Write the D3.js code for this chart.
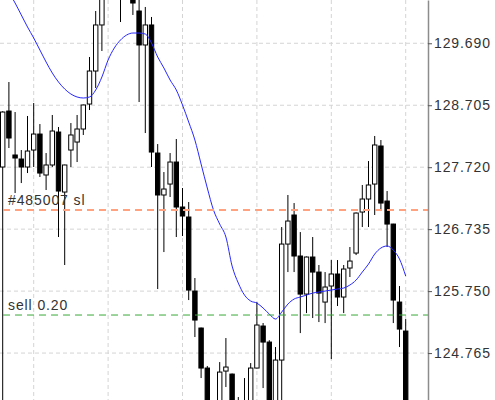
<!DOCTYPE html>
<html>
<head>
<meta charset="utf-8">
<script src="https://cdn.jsdelivr.net/npm/d3@7"></script>
<style>
  html, body { margin: 0; padding: 0; background: #fff; }
  svg { display: block; }
</style>
</head>
<body>
<div id="chart"></div>
<script>
/*
  Candlestick chart with MA and order lines
*/

var candleOpen = [127.723,128.613,127.914,127.850,127.723,127.993,128.247,127.596,127.755,128.279,
  127.325,127.993,128.120,128.327,128.724,129.249,129.981,130.450,130.700,130.620,
  130.450,130.410,130.203,129.663,129.981,127.945,127.278,127.452,127.802,127.087,
  126.928,125.751,125.163,124.527,123.900,123.859,124.479,124.431,123.950,123.850,
  123.800,124.527,125.195,124.940,123.900,124.654,126.498,126.960,126.308,125.703,
  126.292,126.053,125.576,125.831,126.022,125.656,126.117,126.355,127.007,127.214,
  127.452,128.057,127.182,126.816,125.576,125.115];

var candleClose = [128.597,128.184,127.866,127.723,127.977,128.247,127.627,127.755,128.295,127.341,
  127.755,128.232,128.327,128.709,129.249,129.981,130.426,130.700,130.600,130.450,
  130.550,130.330,129.663,129.981,127.961,127.278,127.373,127.802,127.087,126.944,
  125.767,125.290,124.527,123.859,123.750,124.463,124.543,123.850,123.800,123.980,
  124.527,125.211,124.940,123.850,124.654,126.498,126.864,126.308,125.703,126.292,
  126.053,125.719,125.815,126.022,125.656,126.101,126.228,126.991,127.214,127.437,
  128.073,127.150,126.816,125.608,125.147,123.900];

var candleHigh = [128.610,129.074,128.597,127.993,128.534,128.740,128.406,127.945,128.550,128.359,
  127.760,128.422,128.550,128.715,129.472,130.203,130.505,130.850,130.900,130.750,
  130.700,130.600,130.400,130.267,130.108,128.088,127.643,127.945,128.168,127.389,
  127.166,125.958,125.170,124.560,123.980,124.622,125.004,124.440,124.066,124.368,
  124.606,125.576,125.243,124.970,124.861,126.769,127.278,127.150,126.689,126.300,
  126.610,126.165,126.053,126.244,126.244,126.165,126.451,127.000,127.437,127.818,
  128.216,128.152,127.341,126.820,125.831,125.306];

var candleLow = [123.700,128.025,127.309,127.468,127.627,127.723,127.564,127.357,127.723,126.610,
  126.165,127.723,127.802,128.232,128.629,128.979,129.567,130.400,130.450,130.028,
  130.400,130.140,128.756,128.263,127.723,125.783,126.371,127.246,126.610,126.626,
  125.608,125.020,124.368,123.780,123.600,123.700,124.225,123.700,123.600,123.700,
  123.700,124.520,124.209,123.700,123.800,123.859,126.053,126.053,125.083,125.401,
  125.322,125.258,125.242,124.670,125.513,125.401,125.974,126.323,126.769,126.769,
  126.960,127.023,126.451,125.242,124.861,123.800];

var maValues = [130.696,130.505,130.330,130.140,129.949,129.774,129.583,129.392,129.217,129.074,
  128.963,128.883,128.836,128.820,128.836,128.947,129.154,129.424,129.615,129.742,
  129.822,129.853,129.853,129.837,129.694,129.472,129.297,129.106,128.947,128.709,
  128.438,128.152,127.770,127.389,127.039,126.816,126.610,126.149,125.878,125.687,
  125.592,125.560,125.481,125.385,125.306,125.417,125.544,125.624,125.656,125.687,
  125.719,125.735,125.751,125.767,125.783,125.799,125.847,125.926,126.053,126.180,
  126.339,126.435,126.467,126.403,126.260,125.990];

var priceTicks = [129.690, 128.705, 127.720, 126.735, 125.750, 124.765];
var gridCandles = [5, 17, 29, 41, 53, 65];

var slLabel = "#485007 sl", slPrice = 127.039;
var sellLabel = "sell 0.20", sellPrice = 125.370;

var width = 495, height = 400, plotRight = 428;

var data = candleOpen.map(function(o, i){
  return {i: i, open: o, close: candleClose[i], high: candleHigh[i], low: candleLow[i]};
});

var x = d3.scaleLinear().domain([0, data.length - 1]).range([2.7, 405.7]);
var y = d3.scaleLinear().domain([124.019, 130.378]).range([height, 0]);
var bodyW = 4.4;

var svg = d3.select("#chart").append("svg")
  .attr("width", width)
  .attr("height", height);

svg.append("clipPath").attr("id", "plot")
  .append("rect").attr("x", 0).attr("y", 0).attr("width", plotRight).attr("height", height);

//Grid
svg.append("g").selectAll("line")
  .data(priceTicks)
  .enter().append("line")
    .attr("x1", 0).attr("x2", plotRight)
    .attr("y1", function(d){ return y(d); })
    .attr("y2", function(d){ return y(d); })
    .attr("stroke", "#d4d4d4")
    .attr("stroke-dasharray", "4,3");

svg.append("g").selectAll("line")
  .data(gridCandles)
  .enter().append("line")
    .attr("x1", function(d){ return x(d); })
    .attr("x2", function(d){ return x(d); })
    .attr("y1", 0).attr("y2", height)
    .attr("stroke", "#d4d4d4")
    .attr("stroke-dasharray", "4,3");

var plot = svg.append("g").attr("clip-path", "url(#plot)");

//Candles
var candles = plot.selectAll(".candle")
  .data(data)
  .enter().append("g")
    .attr("class", "candle");

candles.append("line")
  .attr("x1", function(d){ return x(d.i); })
  .attr("x2", function(d){ return x(d.i); })
  .attr("y1", function(d){ return y(d.high); })
  .attr("y2", function(d){ return y(d.low); })
  .attr("stroke", "#000")
  .attr("stroke-width", 1);

candles.append("rect")
  .attr("x", function(d){ return x(d.i) - bodyW / 2; })
  .attr("width", bodyW)
  .attr("y", function(d){ return y(Math.max(d.open, d.close)); })
  .attr("height", function(d){ return Math.max(1, Math.abs(y(d.open) - y(d.close))); })
  .attr("fill", function(d){ return d.close >= d.open ? "#fff" : "#000"; })
  .attr("stroke", "#000")
  .attr("stroke-width", 1);

//Moving average
plot.append("path")
  .datum(maValues)
  .attr("fill", "none")
  .attr("stroke", "#2727ff")
  .attr("stroke-width", 1)
  .attr("d", d3.line()
    .x(function(d, i){ return x(i); })
    .y(function(d){ return y(d); })
    .curve(d3.curveMonotoneX));

//Order lines
var orders = [
  {label: slLabel, price: slPrice, color: "#ffa27f", w: 2},
  {label: sellLabel, price: sellPrice, color: "#3aa83a", w: 1}
];

svg.append("g").selectAll("line")
  .data(orders)
  .enter().append("line")
    .attr("x1", 3).attr("x2", plotRight)
    .attr("y1", function(d){ return y(d.price); })
    .attr("y2", function(d){ return y(d.price); })
    .attr("stroke", function(d){ return d.color; })
    .attr("stroke-width", function(d){ return d.w; })
    .attr("stroke-dasharray", "7,5");

svg.append("g").selectAll("text")
  .data(orders)
  .enter().append("text")
    .attr("x", 8)
    .attr("y", function(d){ return y(d.price) - 5; })
    .style("font-family", "Liberation Sans, Arial, sans-serif")
    .style("font-size", "14px")
    .style("letter-spacing", "0.9px")
    .style("fill", "#333")
    .text(function(d){ return d.label; });

//Price axis
var axis = svg.append("g")
  .attr("transform", "translate(" + plotRight + ",0)")
  .call(d3.axisRight(y).tickValues(priceTicks).tickSize(4).tickSizeOuter(0).tickPadding(2)
    .tickFormat(d3.format(".3f")));

axis.select(".domain").attr("stroke", "#8c8c8c").attr("stroke-width", 1.5);
axis.selectAll(".tick line").attr("stroke", "#555");
axis.selectAll("text")
  .style("font-family", "Liberation Sans, Arial, sans-serif")
  .style("font-size", "14px")
  .style("letter-spacing", "0.9px")
  .style("fill", "#333");
</script>
</body>
</html>
